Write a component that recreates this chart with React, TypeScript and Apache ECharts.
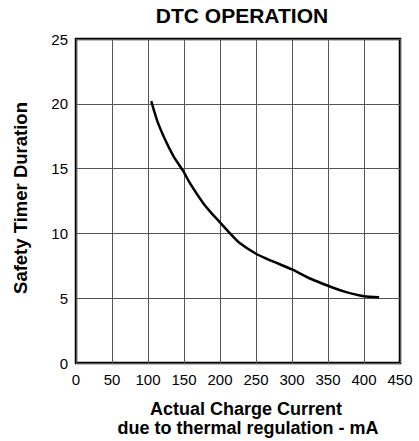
import React, { useEffect, useRef } from "react";
import * as echarts from "echarts";

const currentMA = [104.5, 112.7, 124, 135.5, 149, 158, 177, 186, 200, 214, 226, 250, 270, 300, 326, 350, 372, 400, 421];
const timerDuration = [20.2, 18.7, 17.2, 15.95, 14.8, 13.9, 12.3, 11.7, 10.85, 10.0, 9.32, 8.43, 7.92, 7.22, 6.5, 5.96, 5.53, 5.15, 5.07];
const xTicks = [0, 50, 100, 150, 200, 250, 300, 350, 400, 450];
const yTicks = [0, 5, 10, 15, 20, 25];

const titleText = "DTC OPERATION";
const yName = "Safety Timer Duration";
const xName1 = "Actual Charge Current";
const xName2 = "due to thermal regulation - mA";

export default function App() {
  const ref = useRef<HTMLDivElement>(null);
  useEffect(() => {
    if (!ref.current) return;
    const chart = echarts.init(ref.current, undefined, { renderer: "svg" });
    const font = "Liberation Sans, Arial, Helvetica, sans-serif";
    chart.setOption({
      animation: false,
      backgroundColor: "#fff",
      grid: {
        left: 76,
        right: 19,
        top: 39,
        bottom: 78,
        show: true,
        borderColor: "#000",
        borderWidth: 2.5,
        backgroundColor: "transparent",
      },
      xAxis: {
        type: "value",
        min: xTicks[0],
        max: xTicks[xTicks.length - 1],
        interval: 50,
        axisLine: { show: false },
        axisTick: { show: false },
        axisLabel: { color: "#000", fontSize: 15, fontFamily: font, margin: 9 },
        splitLine: { show: true, lineStyle: { color: "#555", width: 1 } },
      },
      yAxis: {
        type: "value",
        min: yTicks[0],
        max: yTicks[yTicks.length - 1],
        interval: 5,
        axisLine: { show: false },
        axisTick: { show: false },
        axisLabel: { color: "#000", fontSize: 15, fontFamily: font, margin: 8 },
        splitLine: { show: true, lineStyle: { color: "#555", width: 1 } },
      },
      series: [
        {
          type: "line",
          data: currentMA.map((x, i) => [x, timerDuration[i]]),
          showSymbol: false,
          smooth: 0.2,
          lineStyle: { color: "#000", width: 2.5 },
          z: 5,
        },
      ],
      graphic: [
        {
          type: "text",
          x: 242,
          y: 15,
          style: {
            text: titleText,
            fontSize: 21,
            fontWeight: "bold",
            fontFamily: font,
            fill: "#000",
            align: "center",
            verticalAlign: "middle",
          },
        },
        {
          type: "text",
          x: 20,
          y: 198,
          rotation: Math.PI / 2,
          style: {
            text: yName,
            fontSize: 18.5,
            fontWeight: "bold",
            fontFamily: font,
            fill: "#000",
            align: "center",
            verticalAlign: "middle",
          },
        },
        {
          type: "text",
          x: 246,
          y: 409,
          style: {
            text: xName1,
            fontSize: 18,
            fontWeight: "bold",
            fontFamily: font,
            fill: "#000",
            align: "center",
            verticalAlign: "middle",
          },
        },
        {
          type: "text",
          x: 248,
          y: 428,
          style: {
            text: xName2,
            fontSize: 18,
            fontWeight: "bold",
            fontFamily: font,
            fill: "#000",
            align: "center",
            verticalAlign: "middle",
          },
        },
      ],
    });
    return () => chart.dispose();
  }, []);
  return <div ref={ref} style={{ width: 419, height: 441, position: "absolute", left: 0, top: 0 }} />;
}
